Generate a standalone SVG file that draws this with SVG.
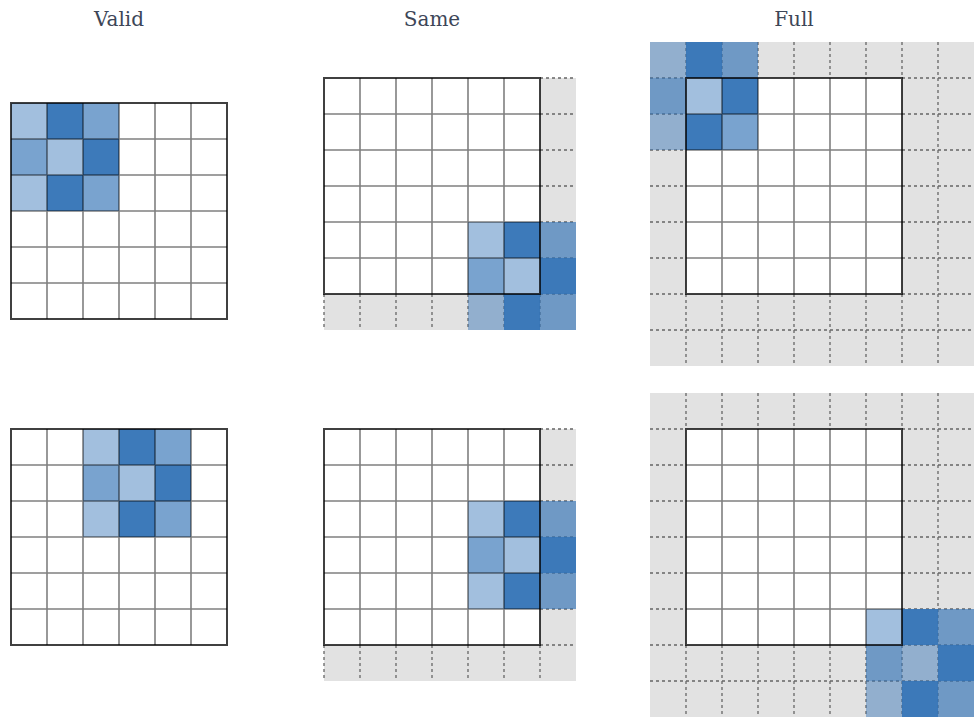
<svg xmlns="http://www.w3.org/2000/svg" xmlns:xlink="http://www.w3.org/1999/xlink" width="979" height="721" viewBox="0 0 979 721">
<style>
.title{font-family:"DejaVu Serif","Liberation Serif",serif;font-size:20px;fill:#3d4657;text-anchor:middle}
.pad{fill:#e2e2e2}
.bg{fill:#ffffff}
.dash{fill:none;stroke:#666;stroke-width:1.3;stroke-dasharray:3 3}
.gl{fill:none;stroke:#000;stroke-opacity:.5;stroke-width:1.6}
.border{fill:none;stroke:#000;stroke-opacity:.75;stroke-width:2}
.k{fill:#3172b6}
.kL{fill-opacity:.45}
.kM{fill-opacity:.65}
.kD{fill-opacity:.94}
</style>
<defs>
<rect id="bg6" class="bg" x="0" y="0" width="216" height="216"/>
<g id="lines6">
<path class="gl" d="M36 0V216M72 0V216M108 0V216M144 0V216M180 0V216M0 36H216M0 72H216M0 108H216M0 144H216M0 180H216"/>
<rect class="border" x="0" y="0" width="216" height="216"/>
</g>
<g id="kernel" class="k">
<rect class="kL" x="0" y="0" width="36" height="36"/>
<rect class="kD" x="36" y="0" width="36" height="36"/>
<rect class="kM" x="72" y="0" width="36" height="36"/>
<rect class="kM" x="0" y="36" width="36" height="36"/>
<rect class="kL" x="36" y="36" width="36" height="36"/>
<rect class="kD" x="72" y="36" width="36" height="36"/>
<rect class="kL" x="0" y="72" width="36" height="36"/>
<rect class="kD" x="36" y="72" width="36" height="36"/>
<rect class="kM" x="72" y="72" width="36" height="36"/>
</g>
</defs>
<rect x="0" y="0" width="979" height="721" fill="#ffffff"/>
<g id="titles">
<text class="title" x="119" y="26">Valid</text>
<text class="title" x="432" y="26">Same</text>
<text class="title" x="794" y="26">Full</text>
</g>
<g id="valid-top">
<use xlink:href="#bg6" x="11" y="103"/>
<use xlink:href="#kernel" x="11" y="103"/>
<use xlink:href="#lines6" x="11" y="103"/>
</g>
<g id="valid-bottom">
<use xlink:href="#bg6" x="11" y="429"/>
<use xlink:href="#kernel" x="83" y="429"/>
<use xlink:href="#lines6" x="11" y="429"/>
</g>
<g id="same-top">
<rect class="pad" x="540" y="78" width="36" height="252"/>
<rect class="pad" x="324" y="294" width="216" height="36"/>
<path class="dash" d="M540 78H576M540 114H576M540 150H576M540 186H576M540 222H576M540 258H576M540 294H576M324 294V330M360 294V330M396 294V330M432 294V330M468 294V330M504 294V330M540 294V330"/>
<use xlink:href="#bg6" x="324" y="78"/>
<use xlink:href="#kernel" x="468" y="222"/>
<use xlink:href="#lines6" x="324" y="78"/>
</g>
<g id="same-bottom">
<rect class="pad" x="540" y="429" width="36" height="252"/>
<rect class="pad" x="324" y="645" width="216" height="36"/>
<path class="dash" d="M540 429H576M540 465H576M540 501H576M540 537H576M540 573H576M540 609H576M540 645H576M324 645V681M360 645V681M396 645V681M432 645V681M468 645V681M504 645V681M540 645V681"/>
<use xlink:href="#bg6" x="324" y="429"/>
<use xlink:href="#kernel" x="468" y="501"/>
<use xlink:href="#lines6" x="324" y="429"/>
</g>
<g id="full-top">
<rect class="pad" x="650" y="42" width="324" height="324"/>
<path class="dash" d="M686 42V78M722 42V78M758 42V78M794 42V78M830 42V78M866 42V78M902 42V78M686 294V366M722 294V366M758 294V366M794 294V366M830 294V366M866 294V366M902 294V366M938 42V366M650 78H686M650 114H686M650 150H686M650 186H686M650 222H686M650 258H686M650 294H686M902 78H974M902 114H974M902 150H974M902 186H974M902 222H974M902 258H974M902 294H974M650 330H974"/>
<use xlink:href="#bg6" x="686" y="78"/>
<use xlink:href="#kernel" x="650" y="42"/>
<use xlink:href="#lines6" x="686" y="78"/>
</g>
<g id="full-bottom">
<rect class="pad" x="650" y="393" width="324" height="324"/>
<path class="dash" d="M686 393V429M722 393V429M758 393V429M794 393V429M830 393V429M866 393V429M902 393V429M686 645V717M722 645V717M758 645V717M794 645V717M830 645V717M866 645V717M902 645V717M938 393V717M650 429H686M650 465H686M650 501H686M650 537H686M650 573H686M650 609H686M650 645H686M902 429H974M902 465H974M902 501H974M902 537H974M902 573H974M902 609H974M902 645H974M650 681H974"/>
<use xlink:href="#bg6" x="686" y="429"/>
<use xlink:href="#kernel" x="866" y="609"/>
<use xlink:href="#lines6" x="686" y="429"/>
</g>
<g id="connectors"></g>
</svg>
